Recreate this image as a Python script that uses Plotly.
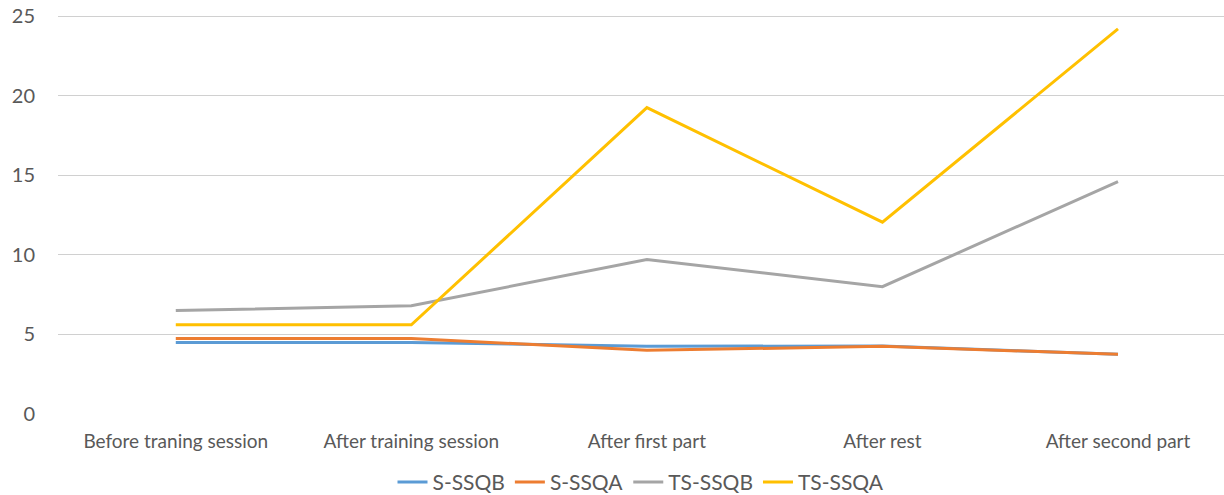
import plotly.graph_objects as go

stages = ['Before traning session', 'After training session', 'After first part', 'After rest', 'After second part']
s_ssqb = [4.5, 4.5, 4.25, 4.28, 3.75]
s_ssqa = [4.75, 4.75, 4.0, 4.25, 3.75]
ts_ssqb = [6.5, 6.8, 9.7, 8.0, 14.6]
ts_ssqa = [5.6, 5.6, 19.25, 12.05, 24.2]

series = [('S-SSQB', s_ssqb, '#5b9bd5'),
          ('S-SSQA', s_ssqa, '#ed7d31'),
          ('TS-SSQB', ts_ssqb, '#a5a5a5'),
          ('TS-SSQA', ts_ssqa, '#ffc000')]

fig = go.Figure()
for name, vals, col in series:
    fig.add_trace(go.Scatter(x=list(range(len(stages))), y=vals, name=name, mode='lines',
                             line=dict(color=col, width=3)))

fig.update_layout(
    width=1224, height=495,
    margin=dict(l=58, r=0, t=15, b=81, autoexpand=False),
    plot_bgcolor='white', paper_bgcolor='white',
    font=dict(family='Lato, sans-serif', color='#595959', size=19),
    legend=dict(orientation='h', x=0.5, xanchor='center', y=-0.12, yanchor='top',
                font=dict(size=21), itemwidth=30, tracegroupgap=0),
    xaxis=dict(tickmode='array', tickvals=list(range(len(stages))), ticktext=stages,
               range=[-0.5, 4.45], showgrid=False, zeroline=False, showline=False,
               ticks='', ticklabelstandoff=14, automargin=False),
    yaxis=dict(range=[0, 25.07], dtick=5, showgrid=True, gridcolor='#d0d0d0', gridwidth=1,
               zeroline=False, showline=False, ticks='', tickfont=dict(size=20),
               ticklabelstandoff=22, automargin=False),
)

# drop the default body margin so the figure sits at the page corner
fig.write_html("out.html", config={'displayModeBar': False},
               post_script="document.body.style.margin='0';")
